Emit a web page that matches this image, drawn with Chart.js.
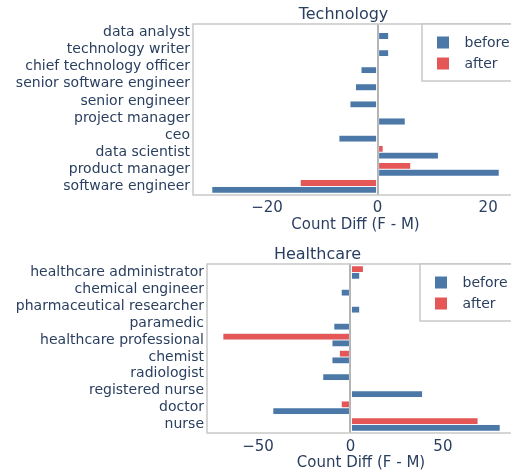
<!DOCTYPE html>
<html>
<head>
<meta charset="utf-8">
<script src="https://cdn.jsdelivr.net/npm/chart.js@4.4.1/dist/chart.umd.min.js"></script>
<style>
  html, body { margin: 0; padding: 0; background: #fff; overflow: hidden; }
  body { width: 511px; height: 473px; position: relative; }
  .box { position: absolute; left: 0; width: 540px; }
</style>
</head>
<body>
<div class="box" style="top:0;height:240px"><canvas id="techChart"></canvas></div>
<div class="box" style="top:240px;height:233px"><canvas id="healthChart"></canvas></div>
<script>
'use strict';

let seriesNames = ['before', 'after'];
let axisTitle = 'Count Diff (F - M)';

// listed top to bottom, as they appear
let techJobs = [
  'data analyst',
  'technology writer',
  'chief technology officer',
  'senior software engineer',
  'senior engineer',
  'project manager',
  'ceo',
  'data scientist',
  'product manager',
  'software engineer',
];
let techBefore = [2, 2, -3, -4, -5, 5, -7, 11, 22, -30];
let techAfter = [0, 0, 0, 0, 0, 0, 0, 1, 6, -14];
let techTicks = [-20, 0, 20];

let healthJobs = [
  'healthcare administrator',
  'chemical engineer',
  'pharmaceutical researcher',
  'paramedic',
  'healthcare professional',
  'chemist',
  'radiologist',
  'registered nurse',
  'doctor',
  'nurse',
];
let healthBefore = [5, -5, 5, -9, -10, -10, -15, 39, -42, 81];
let healthAfter = [7, 0, 0, 0, -69, -6, -1, 0, -5, 69];
let healthTicks = [-50, 0, 50];

const textColor = '#2a3f5f';
const fontFamily = '"DejaVu Sans", Verdana, sans-serif';
const colors = { before: '#4c78a8', after: '#e45756' };

// frame round the plot, boxed legend inside top right, subplot title
const plotExtras = {
  id: 'plotExtras',
  afterDatasetsDraw(chart, args, opts) {
    let ctx = chart.ctx;
    let area = chart.chartArea;
    ctx.save();

    ctx.strokeStyle = '#c8c8c8';
    ctx.lineWidth = 1.5;
    ctx.strokeRect(area.left, area.top, area.right - area.left, area.bottom - area.top);

    // legend
    let lx = area.right - opts.legendWidth;
    let ly = area.top;
    ctx.fillStyle = '#fff';
    ctx.fillRect(lx, ly, 140, 57);
    ctx.strokeRect(lx, ly, 140, 57);
    ctx.font = '14px ' + fontFamily;
    ctx.textBaseline = 'middle';
    ctx.textAlign = 'left';
    seriesNames.forEach(function (name, i) {
      let cy = ly + 18.5 + i * 21;
      ctx.fillStyle = colors[name];
      ctx.fillRect(lx + 15, cy - 6, 12, 12);
      ctx.fillStyle = textColor;
      ctx.fillText(name, lx + 42.5, cy + 1);
    });

    // title
    ctx.font = '16px ' + fontFamily;
    ctx.textAlign = 'center';
    ctx.textBaseline = 'alphabetic';
    ctx.fillStyle = textColor;
    ctx.fillText(opts.text, opts.x, opts.y);
    ctx.restore();
  }
};

function makeChart(id, title, jobs, before, after, ticks, g) {
  let ctx = document.getElementById(id).getContext('2d');
  return new Chart(ctx, {
    type: 'bar',
    data: {
      labels: jobs,
      datasets: [
        {
          label: 'after',
          data: after,
          backgroundColor: colors.after,
          borderColor: 'rgba(229,236,246,0.9)',
          borderWidth: 0.5,
          borderSkipped: false,
        },
        {
          label: 'before',
          data: before,
          backgroundColor: colors.before,
          borderColor: 'rgba(229,236,246,0.9)',
          borderWidth: 0.5,
          borderSkipped: false,
        }
      ]
    },
    plugins: [plotExtras],
    options: {
      indexAxis: 'y',
      responsive: true,
      maintainAspectRatio: false,
      animation: false,
      devicePixelRatio: 1,
      layout: { padding: { top: 24, right: g.padRight, left: 0, bottom: 0 } },
      datasets: { bar: { categoryPercentage: 0.8, barPercentage: 1 } },
      plugins: {
        legend: { display: false },
        tooltip: { enabled: false },
        plotExtras: { text: title, x: g.titleX, y: 19, legendWidth: g.legendWidth }
      },
      scales: {
        x: {
          min: g.min,
          max: g.max,
          afterBuildTicks: function (s) { s.ticks = ticks.map(v => ({ value: v })); },
          afterFit: function (s) { s.height = g.xHeight; },
          grid: {
            drawTicks: false,
            lineWidth: 2,
            color: c => (c.tick && c.tick.value === 0) ? '#b4b4b4' : 'rgba(0,0,0,0)'
          },
          border: { display: false },
          ticks: {
            color: textColor,
            font: { family: fontFamily, size: 15 },
            padding: g.tickPad,
            callback: v => v < 0 ? '\u2212' + Math.abs(v) : String(v)
          },
          title: {
            display: true,
            text: axisTitle,
            color: textColor,
            font: { family: fontFamily, size: 15 },
            padding: { top: 0, bottom: g.titlePad }
          }
        },
        y: {
          afterFit: function (s) { s.width = g.yWidth; },
          grid: { display: false, drawTicks: false },
          border: { display: false },
          ticks: {
            color: textColor,
            font: { family: fontFamily, size: 14 },
            padding: 3,
            autoSkip: false
          }
        }
      }
    }
  });
}

makeChart('techChart', 'Technology', techJobs, techBefore, techAfter, techTicks, {
  min: -33.4, max: 25.4, yWidth: 193, xHeight: 45, padRight: 22,
  tickPad: 4, titlePad: 6, titleX: 343.5, legendWidth: 96
});

makeChart('healthChart', 'Healthcare', healthJobs, healthBefore, healthAfter, healthTicks, {
  min: -77.6, max: 89, yWidth: 207, xHeight: 40, padRight: 25,
  tickPad: 5, titlePad: 1, titleX: 317.5, legendWidth: 95
});
</script>
</body>
</html>
